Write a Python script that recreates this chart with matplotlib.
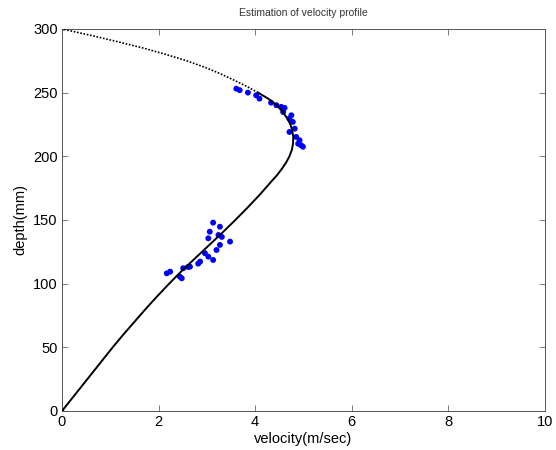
import matplotlib
matplotlib.use("Agg")
import matplotlib.pyplot as plt

plt.rcParams['font.family'] = ['Liberation Sans', 'DejaVu Sans']

# Fitted profile (solid part, within data range)
fit_depth = [0, 10, 20, 30, 40, 50, 60, 70, 80, 90, 100, 110, 120, 130, 140, 150,
             160, 170, 180, 185, 190, 195, 200, 205, 210, 215, 220, 225, 230,
             235, 240, 245, 250]
fit_vel = [0, 0.21, 0.42, 0.63, 0.84, 1.05, 1.27, 1.50, 1.73, 1.97, 2.22, 2.48,
           2.76, 3.04, 3.32, 3.59, 3.85, 4.10, 4.33, 4.45, 4.55, 4.64, 4.71,
           4.76, 4.785, 4.79, 4.77, 4.73, 4.66, 4.57, 4.45, 4.28, 4.06]

# Extrapolated profile (dotted part)
ext_depth = [250, 255, 260, 265, 270, 275, 280, 285, 290, 295, 300]
ext_vel = [4.06, 3.82, 3.55, 3.27, 2.95, 2.58, 2.15, 1.68, 1.15, 0.59, 0]

# Measured points
meas_vel = [3.61, 3.68, 3.85, 4.02, 4.09, 4.33, 4.44, 4.54, 4.61, 4.58, 4.75,
            4.71, 4.78, 4.82, 4.71, 4.85, 4.92, 4.95, 4.89, 4.99,
            3.13, 3.27, 3.06, 3.24, 3.03, 3.48, 3.27, 3.20, 3.03, 2.96, 3.13,
            2.86, 2.65, 2.51, 2.24, 2.17, 2.44, 2.48, 3.31, 2.82, 2.61]
meas_depth = [253.1, 251.9, 250.0, 247.9, 245.3, 242.1, 240.1, 238.8, 238.0,
              234.8, 232.2, 229.6, 227.0, 221.7, 219.1, 215.2, 212.6, 208.7,
              209.9, 207.5,
              147.9, 144.7, 140.8, 138.2, 135.6, 133.0, 130.4, 126.4, 121.2,
              123.9, 118.6, 117.3, 113.3, 112.1, 109.4, 108.1, 105.5, 104.2,
              136.7, 115.7, 113.1]

# Boundary points
bound_vel = [0, 0]
bound_depth = [0, 300]

xticks = [0, 2, 4, 6, 8, 10]
yticks = [0, 50, 100, 150, 200, 250, 300]

fig = plt.figure(figsize=(5.56, 4.5), dpi=100)
ax = fig.add_axes([0.1115, 0.0867, 0.8685, 0.849])

ax.scatter(meas_vel, meas_depth, s=18, color='#0000ff', edgecolors='none', zorder=2)
ax.scatter(bound_vel, bound_depth, s=10, color='#0000ff', edgecolors='none', zorder=2)
ax.plot(fit_vel, fit_depth, color='black', linewidth=1.4, zorder=3)
ax.plot(ext_vel, ext_depth, color='black', linewidth=1.2, linestyle=(0, (1, 1)), zorder=3)

ax.set_xlim(0, 10)
ax.set_ylim(0, 300)
ax.set_xticks(xticks)
ax.set_yticks(yticks)
ax.tick_params(direction='in', top=True, right=True, length=4, width=0.6,
               color='#666666', labelsize=10.5, pad=3)
for s in ax.spines.values():
    s.set_color('#555555')
    s.set_linewidth(0.7)

ax.set_xlabel('velocity(m/sec)', fontsize=10.5, labelpad=2)
ax.set_ylabel('depth(mm)', fontsize=10.5, labelpad=4)
ax.set_title('Estimation of velocity profile', fontsize=7.5, pad=9, color='#333333')

fig.savefig('out.png', dpi=100)
